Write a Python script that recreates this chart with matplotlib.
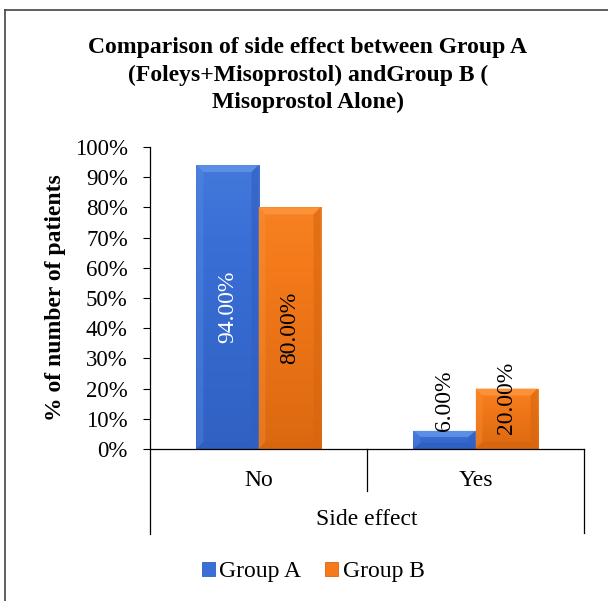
import numpy as np
import matplotlib
matplotlib.use('Agg')
import matplotlib.pyplot as plt
from matplotlib.patches import Polygon, Rectangle
from matplotlib.colors import LinearSegmentedColormap
from matplotlib.lines import Line2D

categories = ['No', 'Yes']
groups = ['Group A', 'Group B']
group_a = [94.0, 6.0]
group_b = [80.0, 20.0]
y_ticks = [0, 10, 20, 30, 40, 50, 60, 70, 80, 90, 100]

title = ('Comparison of side effect between Group A\n'
         '(Foleys+Misoprostol) andGroup B (\n'
         'Misoprostol Alone)')

# light / dark shades for the excel style bevel
shades = {
    'Group A': ('#5b8fe6', '#2f5fc0', '#3a6fd6'),
    'Group B': ('#fb9238', '#d8660f', '#f47a1a'),
}
label_colors = {'Group A': 'white', 'Group B': 'black'}

plt.rcParams['font.family'] = ['Liberation Serif', 'DejaVu Serif']

fig = plt.figure(figsize=(6.08, 6.01), dpi=100)
ax = fig.add_axes([150 / 608, 1 - 449 / 601, 434 / 608, 302 / 601])

width = 0.286
x = np.arange(len(categories))
series = [group_a, group_b]
offsets = [-width / 2, width / 2]

handles = []
for name, vals, off in zip(groups, series, offsets):
    light, dark, mid = shades[name]
    bars = ax.bar(x + off, vals, width, color=mid, edgecolor=dark,
                  linewidth=0.6, zorder=2, label=name)
    cmap = LinearSegmentedColormap.from_list(name, [dark, mid, light])
    grad = np.linspace(0, 1, 100).reshape(-1, 1)
    for rect, v in zip(bars, vals):
        x0 = rect.get_x()
        w = rect.get_width()
        im = ax.imshow(grad, cmap=cmap, origin='lower', aspect='auto',
                       extent=(x0, x0 + w, 0, v), zorder=2.1, vmin=-0.1, vmax=1.6)
        im.set_clip_path(rect)
        bx = 0.032
        by = min(2.3, v / 3)
        top = Polygon([(x0, v), (x0 + w, v), (x0 + w - bx, v - by), (x0 + bx, v - by)],
                      closed=True, facecolor=light, edgecolor='none', zorder=2.2)
        right = Polygon([(x0 + w, v), (x0 + w, 0), (x0 + w - bx, by), (x0 + w - bx, v - by)],
                        closed=True, facecolor=dark, edgecolor='none', alpha=0.6, zorder=2.2)
        left = Polygon([(x0, v), (x0, 0), (x0 + bx, by), (x0 + bx, v - by)],
                       closed=True, facecolor=light, edgecolor='none', alpha=0.35, zorder=2.2)
        bottom = Polygon([(x0, 0), (x0 + w, 0), (x0 + w - bx, by), (x0 + bx, by)],
                         closed=True, facecolor=dark, edgecolor='none', alpha=0.8, zorder=2.2)
        for p in (top, right, left, bottom):
            ax.add_patch(p)
        # data label, rotated like excel
        if v < 10:
            ax.text(x0 + w / 2, v, f'{v:.2f}%', rotation=90, ha='center', va='bottom',
                    fontsize=17, color='black', zorder=3)
        else:
            ax.text(x0 + w / 2, max(v / 2, 17), f'{v:.2f}%', rotation=90,
                    ha='center', va='center', fontsize=17,
                    color=label_colors[name], zorder=3)
    handles.append(Rectangle((0, 0), 1, 1, facecolor=mid, edgecolor=dark, linewidth=0.6))

ax.set_xlim(-0.5, len(categories) - 0.5)
ax.set_ylim(0, 100)
ax.set_yticks(y_ticks)
ax.set_yticklabels([f'{t}%' for t in y_ticks], fontsize=16.5)
ax.set_xticks(x)
ax.set_xticklabels(categories, fontsize=17)
ax.tick_params(axis='x', length=0, pad=15)
ax.tick_params(axis='y', length=5, width=0.8, direction='out', pad=11)
for s in ['top', 'right']:
    ax.spines[s].set_visible(False)
for s in ['left', 'bottom']:
    ax.spines[s].set_linewidth(0.9)

ax.set_ylabel('% of number of patients', fontsize=17, fontweight='bold', labelpad=6)

# category table lines under the axis
for xa, depth in [(0, -0.281), (0.5, -0.139), (1, -0.278)]:
    ax.add_line(Line2D([xa, xa], [0, depth], transform=ax.transAxes,
                       color='black', linewidth=0.9, clip_on=False))
ax.text(0.5, -0.235, 'Side effect', transform=ax.transAxes, ha='center',
        va='center', fontsize=17)

fig.text(308 / 608, 1 - 75 / 601, title, ha='center', va='center',
         fontsize=17, fontweight='bold', linespacing=1.38)

fig.legend(handles, groups, loc='center', bbox_to_anchor=(313 / 608, 1 - 572 / 601),
           ncol=2, frameon=False, fontsize=17, handlelength=0.55, handleheight=0.55,
           handletextpad=0.2, columnspacing=1.0)

# chart area border (only left and top edges visible)
fig.add_artist(Line2D([5 / 608, 5 / 608], [0, 1 - 10 / 601], transform=fig.transFigure,
                      color='#444444', linewidth=1.2))
fig.add_artist(Line2D([5 / 608, 1], [1 - 10 / 601, 1 - 10 / 601], transform=fig.transFigure,
                      color='#444444', linewidth=1.2))

fig.savefig('out.png', dpi=100)
